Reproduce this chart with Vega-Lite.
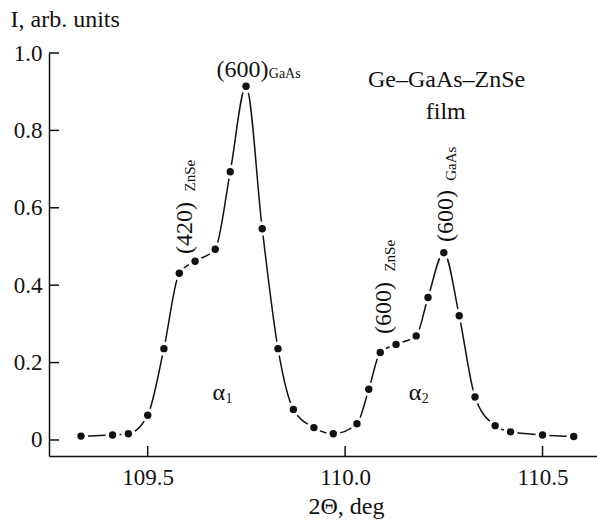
{
  "$schema": "https://vega.github.io/schema/vega-lite/v6.json",
  "width": 548,
  "height": 403,
  "autosize": {"type": "none"},
  "padding": {"left": 49, "top": 53, "right": 0, "bottom": 66},
  "background": "white",
  "config": {
    "view": {"stroke": null, "fill": null},
    "font": "Liberation Serif",
    "axis": {
      "grid": false,
      "zindex": 1,
      "tickColor": "#111",
      "tickWidth": 1.5,
      "domainColor": "#111",
      "domainWidth": 1.5,
      "labelColor": "#111",
      "labelFont": "Liberation Serif",
      "labelFontSize": 23,
      "titleColor": "#111",
      "titleFont": "Liberation Serif",
      "titleFontSize": 24,
      "titleFontWeight": "normal"
    }
  },
  "datasets": {
    "points": [
      {"x": 109.331, "y": 0.010},
      {"x": 109.411, "y": 0.013},
      {"x": 109.451, "y": 0.016},
      {"x": 109.500, "y": 0.064},
      {"x": 109.541, "y": 0.236},
      {"x": 109.580, "y": 0.431},
      {"x": 109.620, "y": 0.462},
      {"x": 109.671, "y": 0.493},
      {"x": 109.709, "y": 0.693},
      {"x": 109.749, "y": 0.914},
      {"x": 109.790, "y": 0.546},
      {"x": 109.830, "y": 0.236},
      {"x": 109.869, "y": 0.079},
      {"x": 109.921, "y": 0.032},
      {"x": 109.970, "y": 0.016},
      {"x": 110.030, "y": 0.042},
      {"x": 110.060, "y": 0.131},
      {"x": 110.089, "y": 0.226},
      {"x": 110.129, "y": 0.247},
      {"x": 110.180, "y": 0.269},
      {"x": 110.210, "y": 0.368},
      {"x": 110.250, "y": 0.484},
      {"x": 110.289, "y": 0.321},
      {"x": 110.329, "y": 0.111},
      {"x": 110.380, "y": 0.037},
      {"x": 110.419, "y": 0.021},
      {"x": 110.500, "y": 0.013},
      {"x": 110.579, "y": 0.009}
    ],
    "xTicks": [
      {"x": 109.5, "y": -0.0414},
      {"x": 110.0, "y": -0.0414},
      {"x": 110.5, "y": -0.0414}
    ],
    "yTicks": [
      {"x": 109.25, "y": 0},
      {"x": 109.25, "y": 0.2},
      {"x": 109.25, "y": 0.4},
      {"x": 109.25, "y": 0.6},
      {"x": 109.25, "y": 0.8},
      {"x": 109.25, "y": 1.0}
    ],
    "mainLabels": [
      {"t": "(600)", "x": 109.740, "y": 0.9555},
      {"t": "Ge–GaAs–ZnSe", "x": 110.257, "y": 0.931},
      {"t": "film", "x": 110.255, "y": 0.848}
    ],
    "mainSubs": [
      {"t": "GaAs", "x": 109.847, "y": 0.9465}
    ],
    "rotLabels": [
      {"t": "(420)", "x": 109.594, "y": 0.548},
      {"t": "(600)", "x": 110.098, "y": 0.341},
      {"t": "(600)", "x": 110.255, "y": 0.579}
    ],
    "rotSubs": [
      {"t": "ZnSe", "x": 109.606, "y": 0.683},
      {"t": "ZnSe", "x": 110.114, "y": 0.476},
      {"t": "GaAs", "x": 110.269, "y": 0.714}
    ],
    "alphas": [
      {"t": "α", "x": 109.680, "y": 0.1215},
      {"t": "α", "x": 110.177, "y": 0.1215}
    ],
    "alphaSubs": [
      {"t": "1", "x": 109.706, "y": 0.107},
      {"t": "2", "x": 110.203, "y": 0.107}
    ]
  },
  "encoding": {
    "x": {
      "field": "x",
      "type": "quantitative",
      "scale": {"domain": [109.25, 110.638], "nice": false, "zero": false},
      "axis": {
        "values": [109.5, 110.0, 110.5],
        "format": ".1f",
        "ticks": false,
        "labelPadding": 10,
        "title": "2Θ, deg",
        "titleX": 297,
        "titleY": 57,
        "titleAlign": "center",
        "titleBaseline": "alphabetic"
      }
    },
    "y": {
      "field": "y",
      "type": "quantitative",
      "scale": {"domain": [-0.0414, 1.0], "nice": false, "zero": false},
      "axis": {
        "values": [0, 0.2, 0.4, 0.6, 0.8, 1.0],
        "labelExpr": "datum.value == 0 ? '0' : format(datum.value, '.1f')",
        "ticks": false,
        "labelPadding": 7,
        "title": "I, arb. units",
        "titleAngle": 0,
        "titleX": -39,
        "titleY": -34,
        "titleAlign": "left",
        "titleBaseline": "middle"
      }
    }
  },
  "layer": [
    {
      "data": {"name": "points"},
      "mark": {"type": "line", "interpolate": "monotone", "color": "#111", "strokeWidth": 1.5}
    },
    {
      "data": {"name": "xTicks"},
      "mark": {"type": "tick", "orient": "vertical", "color": "#111", "size": 10, "thickness": 1.5, "yOffset": -5, "opacity": 1}
    },
    {
      "data": {"name": "yTicks"},
      "mark": {"type": "tick", "orient": "horizontal", "color": "#111", "size": 10, "thickness": 1.5, "xOffset": 5, "opacity": 1}
    },
    {
      "data": {"name": "points"},
      "mark": {"type": "point", "filled": true, "shape": "circle", "size": 200, "color": "white", "opacity": 1}
    },
    {
      "data": {"name": "points"},
      "mark": {"type": "point", "filled": true, "shape": "circle", "size": 55, "color": "#111", "opacity": 1}
    },
    {
      "data": {"name": "mainLabels"},
      "mark": {"type": "text", "font": "Liberation Serif", "fontSize": 24, "align": "center", "baseline": "middle", "color": "#111"},
      "encoding": {"text": {"field": "t"}}
    },
    {
      "data": {"name": "mainSubs"},
      "mark": {"type": "text", "font": "Liberation Serif", "fontSize": 14, "align": "center", "baseline": "middle", "color": "#111"},
      "encoding": {"text": {"field": "t"}}
    },
    {
      "data": {"name": "rotLabels"},
      "mark": {"type": "text", "font": "Liberation Serif", "fontSize": 24, "angle": 270, "align": "center", "baseline": "middle", "color": "#111"},
      "encoding": {"text": {"field": "t"}}
    },
    {
      "data": {"name": "rotSubs"},
      "mark": {"type": "text", "font": "Liberation Serif", "fontSize": 15, "angle": 270, "align": "center", "baseline": "middle", "color": "#111"},
      "encoding": {"text": {"field": "t"}}
    },
    {
      "data": {"name": "alphas"},
      "mark": {"type": "text", "font": "Liberation Serif", "fontSize": 24, "align": "center", "baseline": "middle", "color": "#111"},
      "encoding": {"text": {"field": "t"}}
    },
    {
      "data": {"name": "alphaSubs"},
      "mark": {"type": "text", "font": "Liberation Serif", "fontSize": 14, "align": "center", "baseline": "middle", "color": "#111"},
      "encoding": {"text": {"field": "t"}}
    }
  ]
}
